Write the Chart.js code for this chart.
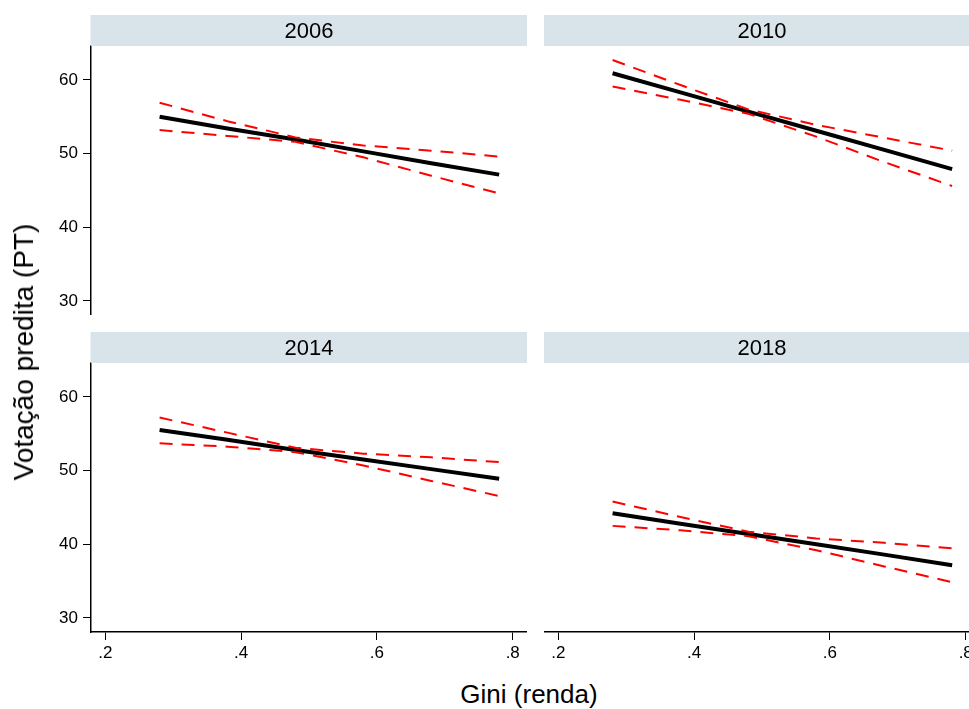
<!DOCTYPE html>
<html>
<head>
<meta charset="utf-8">
<script src="https://cdn.jsdelivr.net/npm/chart.js@4/dist/chart.umd.min.js"></script>
<style>
  html, body { margin: 0; padding: 0; width: 969px; height: 709px; overflow: hidden; background: #fff; }
  .panel { position: absolute; }
  .axis-title { position: absolute; font-family: 'Liberation Sans', Arial, sans-serif; font-size: 26px; color: #000; white-space: nowrap; }
</style>
</head>
<body>
<div class="panel" style="left:0px;top:15px;width:527px;height:300px"><canvas id="c2006"></canvas></div>
<div class="panel" style="left:544px;top:15px;width:436px;height:300px"><canvas id="c2010"></canvas></div>
<div class="panel" style="left:0px;top:332px;width:527px;height:331px"><canvas id="c2014"></canvas></div>
<div class="panel" style="left:544px;top:332px;width:436px;height:331px"><canvas id="c2018"></canvas></div>
<div class="axis-title" style="left:529px;top:694px;transform:translate(-50%,-50%)">Gini (renda)</div>
<div class="axis-title" style="left:24px;top:352px;font-size:28px;transform:translate(-50%,-50%) rotate(-90deg)">Votação predita (PT)</div>
<script>
// Gini values where the predictions were evaluated
const giniPoints = [0.28, 0.38, 0.48, 0.58, 0.68, 0.78];

// Predicted PT vote share with 95% confidence bounds, by election year
const years = ['2006', '2010', '2014', '2018'];
const predicted2006 = [55.0, 53.4, 51.9, 50.3, 48.7, 47.15];
const upper2006     = [56.9, 54.4, 52.2, 51.1, 50.4, 49.6];
const lower2006     = [53.2, 52.4, 51.6, 49.5, 47.0, 44.6];
const predicted2010 = [60.9, 58.3, 55.7, 53.1, 50.5, 47.9];
const upper2010     = [62.7, 59.3, 56.0, 53.9, 52.15, 50.4];
const lower2010     = [59.1, 57.3, 55.4, 52.3, 48.85, 45.6];
const predicted2014 = [55.5, 54.2, 52.8, 51.5, 50.2, 48.9];
const upper2014     = [57.2, 55.15, 53.1, 52.3, 51.8, 51.15];
const lower2014     = [53.7, 53.25, 52.5, 50.7, 48.6, 46.55];
const predicted2018 = [44.2, 42.8, 41.4, 40.0, 38.6, 37.15];
const upper2018     = [45.8, 43.7, 41.7, 40.8, 40.2, 39.45];
const lower2018     = [42.5, 41.9, 41.1, 39.2, 37.0, 34.85];

// Axis ticks
const xTickValues = [0.2, 0.4, 0.6, 0.8];
const xTickLabels = ['.2', '.4', '.6', '.8'];
const yTickValues = [30, 40, 50, 60];
const yTickLabels = ['30', '40', '50', '60'];

const FONT = "'Liberation Sans', Arial, sans-serif";
Chart.defaults.font.family = FONT;
Chart.defaults.color = '#000';

const STRIP_H = 31;

// Paints the grey-blue header strip with the year above each plot area
const stripPlugin = {
  id: 'strip',
  afterDraw(chart, args, opts) {
    const { ctx, chartArea } = chart;
    ctx.save();
    ctx.fillStyle = '#d8e4ea';
    ctx.fillRect(chartArea.left - 0.5, chartArea.top - STRIP_H, chartArea.right - chartArea.left + 1, STRIP_H);
    ctx.fillStyle = '#000';
    ctx.font = '22px ' + FONT;
    ctx.textAlign = 'center';
    ctx.textBaseline = 'middle';
    ctx.fillText(opts.text, (chartArea.left + chartArea.right) / 2, chartArea.top - STRIP_H / 2 + 1);
    ctx.restore();
  }
};

function toPoints(values) {
  return giniPoints.map((g, i) => ({ x: g, y: values[i] }));
}

function makePanel(canvasId, year, predicted, upper, lower, showX, showY) {
  const ciStyle = {
    borderColor: '#ff0000', borderWidth: 2, borderDash: [13, 9],
    pointRadius: 0, tension: 0, fill: false, order: 0
  };
  new Chart(document.getElementById(canvasId), {
    type: 'line',
    data: {
      datasets: [
        Object.assign({ label: 'upper', data: toPoints(upper) }, ciStyle),
        Object.assign({ label: 'lower', data: toPoints(lower) }, ciStyle),
        { label: 'predicted', data: toPoints(predicted), borderColor: '#000', borderWidth: 4,
          pointRadius: 0, tension: 0, fill: false, order: 1, borderCapStyle: 'butt' }
      ]
    },
    options: {
      responsive: true,
      maintainAspectRatio: false,
      animation: false,
      devicePixelRatio: 1,
      layout: { padding: { top: STRIP_H, left: 0, right: 0, bottom: 0 }, autoPadding: false },
      plugins: {
        legend: { display: false },
        tooltip: { enabled: false },
        strip: { text: year }
      },
      scales: {
        x: {
          type: 'linear',
          min: 0.179, max: 0.821,
          display: showX,
          afterBuildTicks: s => { s.ticks = xTickValues.map(v => ({ value: v })); },
          afterFit: s => {
            s.height = showX ? 31 : 0;
            s.paddingLeft = 0; s.paddingRight = 0;
          },
          ticks: {
            callback: v => xTickLabels[xTickValues.indexOf(v)],
            font: { size: 17 }, color: '#000', padding: 3, maxRotation: 0
          },
          grid: { display: true, drawOnChartArea: false, drawTicks: true, tickLength: 8, color: '#000', lineWidth: 1 },
          border: { display: true, color: '#000', width: 1.5 }
        },
        y: {
          type: 'linear',
          min: 28.1, max: 64.6,
          display: showY,
          afterBuildTicks: s => { s.ticks = yTickValues.map(v => ({ value: v })); },
          afterFit: s => {
            s.width = showY ? 91 : 0;
            s.paddingTop = 0; s.paddingBottom = 0;
          },
          ticks: {
            callback: v => yTickLabels[yTickValues.indexOf(v)],
            font: { size: 17 }, color: '#000', padding: 5
          },
          grid: { display: true, drawOnChartArea: false, drawTicks: true, tickLength: 8, color: '#000', lineWidth: 1 },
          border: { display: true, color: '#000', width: 1.5 }
        }
      }
    },
    plugins: [stripPlugin]
  });
}

makePanel('c2006', years[0], predicted2006, upper2006, lower2006, false, true);
makePanel('c2010', years[1], predicted2010, upper2010, lower2010, false, false);
makePanel('c2014', years[2], predicted2014, upper2014, lower2014, true, true);
makePanel('c2018', years[3], predicted2018, upper2018, lower2018, true, false);
</script>
</body>
</html>
